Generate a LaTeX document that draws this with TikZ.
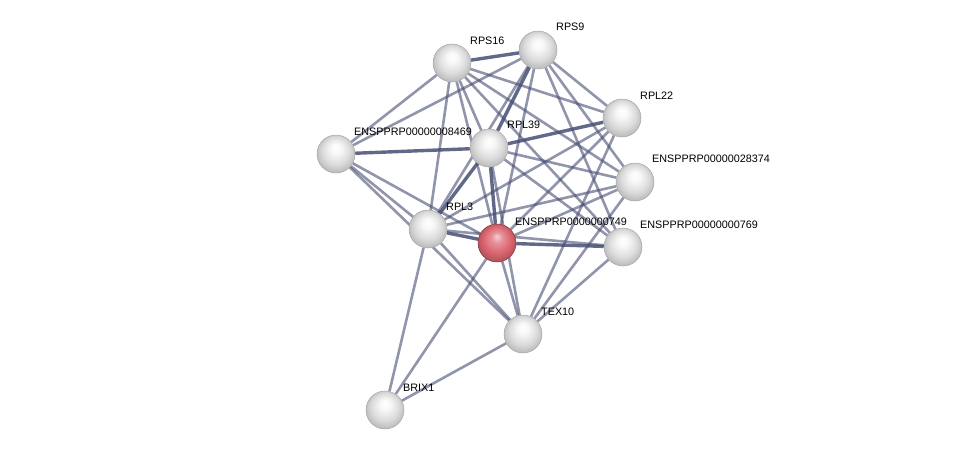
\documentclass[tikz,border=0pt]{standalone}
\usepackage{fontspec}
\setmainfont{Liberation Sans}
\usetikzlibrary{backgrounds}
\definecolor{edgecol}{RGB}{70,78,115}
\definecolor{seedcol}{RGB}{218,100,110}
\pgfdeclareradialshading{protsphere}{\pgfpoint{0bp}{9bp}}{%
  color(0bp)=(white); color(7bp)=(white!94!gray); color(18bp)=(gray!28);
  color(27bp)=(gray!55); color(34bp)=(gray!85)}
\pgfdeclareradialshading{seedsphere}{\pgfpoint{0bp}{9bp}}{%
  color(0bp)=(white!70!seedcol); color(7bp)=(white!30!seedcol); color(18bp)=(seedcol);
  color(27bp)=(seedcol!80!black); color(34bp)=(seedcol!50!black)}
\begin{document}
\begin{tikzpicture}[x=1pt,y=-1pt,
  prot/.style={circle,minimum size=38pt,inner sep=0pt,shading=protsphere,draw=gray!70,line width=0.5pt},
  seed/.style={prot,shading=seedsphere,draw=seedcol!55!black},
  lbl/.style={anchor=west,inner sep=0pt,font=\fontsize{10.8}{12}\selectfont},
  weak/.style={draw=edgecol,line width=2.6pt,opacity=0.6},
  strong/.style={draw=edgecol,line width=3.4pt,opacity=0.85}]
\useasboundingbox (0,0) rectangle (975,455);
% nodes
\node[prot] (A) at (452,63) {};
\node[prot] (B) at (538,50) {};
\node[prot] (C) at (622,118) {};
\node[prot] (D) at (336,154) {};
\node[prot] (E) at (489,148) {};
\node[prot] (F) at (635,182) {};
\node[prot] (G) at (428,229) {};
\node[seed] (H) at (497,243) {};
\node[prot] (I) at (623,247) {};
\node[prot] (J) at (523,334) {};
\node[prot] (K) at (385,410) {};
% edges
\begin{pgfonlayer}{background}
\foreach \u/\v in {A/B,B/E,G/H,H/I,E/C,D/E,E/H,G/E}
  \draw[strong] (\u) -- (\v);
\foreach \u/\v in {A/D,A/G,A/E,A/H,A/C,A/F,A/I,B/D,B/G,B/H,B/C,B/F,B/I,
  C/G,C/H,C/J,D/G,D/H,D/J,E/F,E/I,E/J,F/G,F/H,F/J,G/I,G/J,G/K,H/J,H/K,J/K,I/J}
  \draw[weak] (\u) -- (\v);
\end{pgfonlayer}
% labels
\node[lbl] (lA) at (470,41) {RPS16};
\node[lbl] (lB) at (556,27) {RPS9};
\node[lbl] (lC) at (640,96) {RPL22};
\node[lbl] (lD) at (354,132) {ENSPPRP00000008469};
\node[lbl] (lE) at (507,125) {RPL39};
\node[lbl] (lF) at (652,159) {ENSPPRP00000028374};
\node[lbl] (lG) at (446,207) {RPL3};
\node[lbl] (lH) at (515,222) {ENSPPRP0000000749};
\node[lbl] (lI) at (640,225) {ENSPPRP00000000769};
\node[lbl] (lJ) at (541,312) {TEX10};
\node[lbl] (lK) at (403,388) {BRIX1};
\end{tikzpicture}
\end{document}
